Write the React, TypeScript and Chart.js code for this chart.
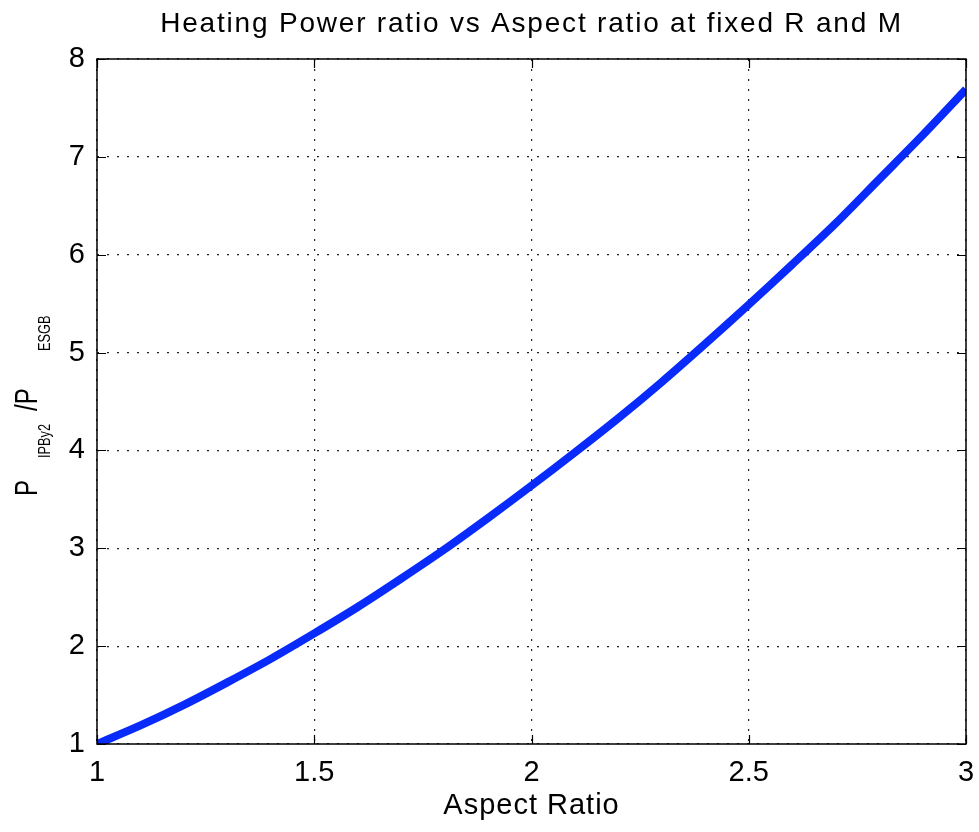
import React, { useEffect, useRef } from "react";
import { Chart, registerables } from "chart.js";

Chart.register(...registerables);

const aspectRatio = [1.0, 1.1, 1.2, 1.3, 1.4, 1.5, 1.6, 1.7, 1.8, 1.9, 2.0, 2.1, 2.2, 2.3, 2.4, 2.5, 2.6, 2.7, 2.8, 2.9, 3.0];
const powerRatio = [1.0, 1.19, 1.4, 1.63, 1.87, 2.13, 2.4, 2.69, 2.99, 3.31, 3.64, 3.98, 4.33, 4.7, 5.09, 5.49, 5.9, 6.32, 6.77, 7.22, 7.69];

const xTickValues = [1, 1.5, 2, 2.5, 3];
const xTickLabels = ["1", "1.5", "2", "2.5", "3"];
const yTickValues = [1, 2, 3, 4, 5, 6, 7, 8];
const yTickLabels = ["1", "2", "3", "4", "5", "6", "7", "8"];

const titleText = "Heating Power ratio vs Aspect ratio at fixed R and M";
const xAxisTitle = "Aspect Ratio";
const yLabelParts = [
  { text: "P", sub: false },
  { text: "IPBy2", sub: true },
  { text: "/P", sub: false },
  { text: "ESGB", sub: true },
];

const FONT = "'Liberation Sans', Arial, Helvetica, sans-serif";

const framePlugin = {
  id: "matlabFrame",
  afterDraw(chart: any) {
    const ctx = chart.ctx as CanvasRenderingContext2D;
    const { left, right, top, bottom } = chart.chartArea;
    const xs = chart.scales.x;
    const ys = chart.scales.y;
    ctx.save();
    ctx.strokeStyle = "#000";
    ctx.lineWidth = 1.5;
    ctx.strokeRect(left, top, right - left, bottom - top);
    const tl = 9;
    ctx.lineWidth = 1.2;
    ctx.beginPath();
    xTickValues.forEach((v) => {
      const px = Math.round(xs.getPixelForValue(v)) + 0.5;
      ctx.moveTo(px, bottom);
      ctx.lineTo(px, bottom - tl);
      ctx.moveTo(px, top);
      ctx.lineTo(px, top + tl);
    });
    yTickValues.forEach((v) => {
      const py = Math.round(ys.getPixelForValue(v)) + 0.5;
      ctx.moveTo(left, py);
      ctx.lineTo(left + tl, py);
      ctx.moveTo(right, py);
      ctx.lineTo(right - tl, py);
    });
    ctx.stroke();

    ctx.fillStyle = "#000";
    // title
    ctx.font = `28px ${FONT}`;
    (ctx as any).letterSpacing = "1.8px";
    ctx.textAlign = "center";
    ctx.textBaseline = "alphabetic";
    ctx.fillText(titleText, (left + right) / 2, 32);
    // x axis title
    ctx.font = `29px ${FONT}`;
    (ctx as any).letterSpacing = "1px";
    ctx.fillText(xAxisTitle, (left + right) / 2, 814);
    (ctx as any).letterSpacing = "0px";

    // y axis label with subscripts (condensed along the text direction)
    ctx.save();
    ctx.translate(0, 496);
    ctx.rotate(-Math.PI / 2);
    const squeeze = 0.75;
    ctx.scale(squeeze, 1);
    ctx.textAlign = "left";
    ctx.textBaseline = "alphabetic";
    const starts = [0, 38, 85, 145];
    yLabelParts.forEach((p, i) => {
      const u = starts[i] / squeeze;
      if (p.sub) {
        ctx.font = `17px ${FONT}`;
        ctx.fillText(p.text, u, 50);
      } else {
        ctx.font = `32px ${FONT}`;
        ctx.fillText(p.text, u, 37);
      }
    });
    ctx.restore();
    ctx.restore();
  },
};

export default function App() {
  const ref = useRef<HTMLCanvasElement | null>(null);
  useEffect(() => {
    if (!ref.current) return;
    const chart = new Chart(ref.current, {
      type: "line",
      data: {
        labels: aspectRatio,
        datasets: [
          {
            data: aspectRatio.map((x, i) => ({ x, y: powerRatio[i] })),
            borderColor: "rgb(8,42,250)",
            borderWidth: 8,
            pointRadius: 0,
            tension: 0.3,
            fill: false,
            clip: 0,
          } as any,
        ],
      },
      options: {
        animation: false,
        responsive: false,
        maintainAspectRatio: false,
        layout: { padding: { top: 59, right: 13, left: 0, bottom: 0 } },
        plugins: {
          legend: { display: false },
          title: { display: false },
          tooltip: { enabled: false },
        },
        scales: {
          x: {
            type: "linear",
            min: 1,
            max: 3,
            afterFit: (s: any) => {
              s.height = 88;
              s.paddingLeft = 0;
              s.paddingRight = 0;
            },
            afterBuildTicks: (s: any) => {
              s.ticks = xTickValues.map((v) => ({ value: v }));
            },
            ticks: {
              color: "#000",
              font: { family: FONT, size: 29 },
              padding: 12,
              maxRotation: 0,
              autoSkip: false,
              callback: (v: any) => xTickLabels[xTickValues.indexOf(Number(v))] ?? "",
            },
            grid: {
              color: "#222",
              lineWidth: 1.2,
              drawTicks: false,
            },
            border: { display: false, dash: [2, 8] },
          },
          y: {
            type: "linear",
            min: 1,
            max: 8,
            afterFit: (s: any) => {
              s.width = 97;
              s.paddingTop = 0;
              s.paddingBottom = 0;
            },
            afterBuildTicks: (s: any) => {
              s.ticks = yTickValues.map((v) => ({ value: v }));
            },
            ticks: {
              color: "#000",
              font: { family: FONT, size: 29 },
              padding: 12,
              autoSkip: false,
              callback: (v: any) => yTickLabels[yTickValues.indexOf(Number(v))] ?? "",
            },
            grid: {
              color: "#222",
              lineWidth: 1.2,
              drawTicks: false,
            },
            border: { display: false, dash: [2, 8] },
          },
        },
      },
      plugins: [framePlugin],
    });
    return () => chart.destroy();
  }, []);
  return (
    <div style={{ position: "fixed", left: 0, top: 0, width: 979, height: 832, background: "#fff" }}>
      <canvas ref={ref} width={979} height={832} style={{ width: 979, height: 832, display: "block" }} />
    </div>
  );
}
